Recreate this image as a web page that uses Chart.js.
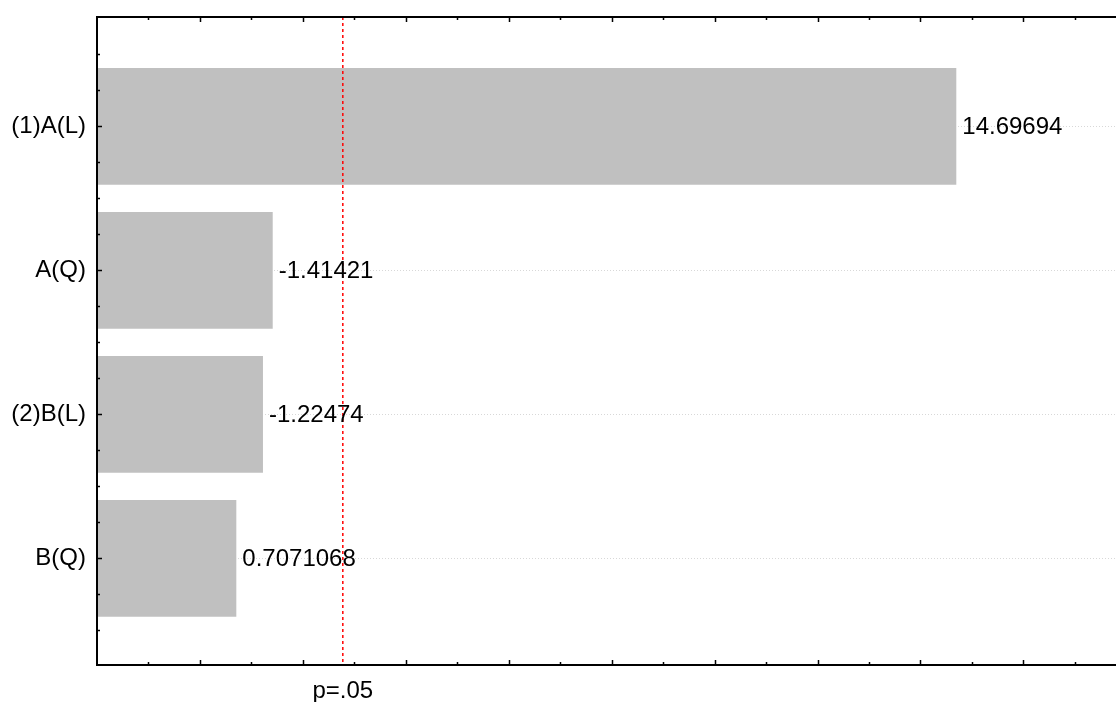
<!DOCTYPE html>
<html>
<head>
<meta charset="utf-8">
<script src="https://cdn.jsdelivr.net/npm/chart.js@4.4.1/dist/chart.umd.min.js"></script>
<style>
  html, body { margin: 0; padding: 0; background: #fff; overflow: hidden; }
  #wrap { width: 1116px; height: 702px; position: relative; }
</style>
</head>
<body>
<div id="wrap"><canvas id="pareto"></canvas></div>
<script>
// standardized effects (Pareto chart)
const effectNames = ['(1)A(L)', 'A(Q)', '(2)B(L)', 'B(Q)'];
const effectValues = [14.69694, -1.41421, -1.22474, 0.7071068];
const critValue = 2.776445; // p=.05
const critLabel = 'p=.05';

const xMin = -2, xMax = 17.8;
const yMin = 0.24, yMax = 4.74;
const fontName = '"Liberation Sans", Arial, sans-serif';

let pts = [];
for (let i = 0; i < effectValues.length; i++) {
  pts.push({ x: Math.abs(effectValues[i]), y: i + 1 });
}

// tick marks pointing into the plot + red p line + value labels
const extras = {
  id: 'extras',
  beforeDatasetsDraw(chart) {
    const ctx = chart.ctx, a = chart.chartArea;
    const ys = chart.scales.y;
    ctx.save();
    // horizontal dotted grid at effects
    ctx.strokeStyle = '#d8d8d8';
    ctx.lineWidth = 1;
    ctx.setLineDash([1, 2]);
    for (let i = 0; i < effectNames.length; i++) {
      let py = Math.round(ys.getPixelForValue(i + 1)) + 0.5;
      ctx.beginPath(); ctx.moveTo(a.left, py); ctx.lineTo(a.right, py); ctx.stroke();
    }
    ctx.restore();
  },
  afterDatasetsDraw(chart) {
    const ctx = chart.ctx, a = chart.chartArea;
    const xs = chart.scales.x, ys = chart.scales.y;
    ctx.save();
    // red critical line
    let cx = xs.getPixelForValue(critValue);
    ctx.strokeStyle = '#ff0000';
    ctx.lineWidth = 1.5;
    ctx.setLineDash([3, 3]);
    ctx.beginPath(); ctx.moveTo(cx, a.top); ctx.lineTo(cx, a.bottom); ctx.stroke();
    ctx.setLineDash([]);

    // frame
    ctx.strokeStyle = '#000';
    ctx.lineWidth = 2;
    ctx.beginPath();
    ctx.moveTo(a.right + 2, a.top); ctx.lineTo(a.left, a.top);
    ctx.lineTo(a.left, a.bottom); ctx.lineTo(a.right + 2, a.bottom);
    ctx.stroke();

    // x ticks (top and bottom, inward)
    ctx.lineWidth = 1.5;
    for (let v = Math.ceil(xMin) + 1; v <= xMax; v++) {
      let px = Math.round(xs.getPixelForValue(v)) + 0.5;
      let len = (v % 2 === 0) ? 5 : 3;
      ctx.beginPath();
      ctx.moveTo(px, a.top); ctx.lineTo(px, a.top + len);
      ctx.moveTo(px, a.bottom); ctx.lineTo(px, a.bottom - len);
      ctx.stroke();
    }
    // y ticks (inward)
    for (let i = 1; i < 18; i++) {
      let v = 0.25 + i * 0.25;
      let py = Math.round(ys.getPixelForValue(v)) + 0.5;
      let len = (i % 4 === 3) ? 5 : 3;
      ctx.beginPath(); ctx.moveTo(a.left, py); ctx.lineTo(a.left + len, py); ctx.stroke();
    }

    // value labels
    ctx.fillStyle = '#000';
    ctx.font = '24px ' + fontName;
    ctx.textAlign = 'left';
    ctx.textBaseline = 'middle';
    const meta = chart.getDatasetMeta(0);
    meta.data.forEach((bar, i) => {
      ctx.fillText(String(effectValues[i]), bar.x + 6, bar.y + 1);
    });
    ctx.restore();
  }
};

new Chart(document.getElementById('pareto'), {
  type: 'bar',
  data: {
    datasets: [{
      data: pts,
      base: xMin,
      backgroundColor: '#c0c0c0',
      borderWidth: 0,
      barPercentage: 0.81,
      categoryPercentage: 1
    }]
  },
  options: {
    indexAxis: 'y',
    responsive: true,
    maintainAspectRatio: false,
    animation: false,
    layout: { padding: { top: 17, right: 0, left: 0, bottom: 0 } },
    plugins: { legend: { display: false }, tooltip: { enabled: false } },
    scales: {
      x: {
        type: 'linear',
        position: 'bottom',
        min: xMin,
        max: xMax,
        afterBuildTicks(scale) { scale.ticks = [{ value: critValue }]; },
        afterFit(scale) {
          scale.height = 37;
          scale.paddingLeft = 0; scale.paddingRight = 0;
        },
        grid: { display: false, drawTicks: false },
        border: { display: false },
        ticks: {
          autoSkip: false,
          maxRotation: 0,
          padding: 12,
          color: '#000',
          font: { family: fontName, size: 24 },
          callback: () => critLabel
        }
      },
      y: {
        type: 'linear',
        reverse: true,
        offset: false,
        min: yMin,
        max: yMax,
        afterBuildTicks(scale) {
          scale.ticks = effectNames.map((n, i) => ({ value: i + 1 }));
          scale.min = yMin;
          scale.max = yMax;
        },
        afterFit(scale) {
          scale.width = 97;
          scale.paddingTop = 0; scale.paddingBottom = 0;
        },
        grid: { display: false, drawTicks: false, offset: false },
        border: { display: false },
        ticks: {
          autoSkip: false,
          padding: 11,
          color: '#000',
          font: { family: fontName, size: 24 },
          callback: (v) => effectNames[Math.round(v) - 1]
        }
      }
    }
  },
  plugins: [extras]
});
</script>
</body>
</html>
